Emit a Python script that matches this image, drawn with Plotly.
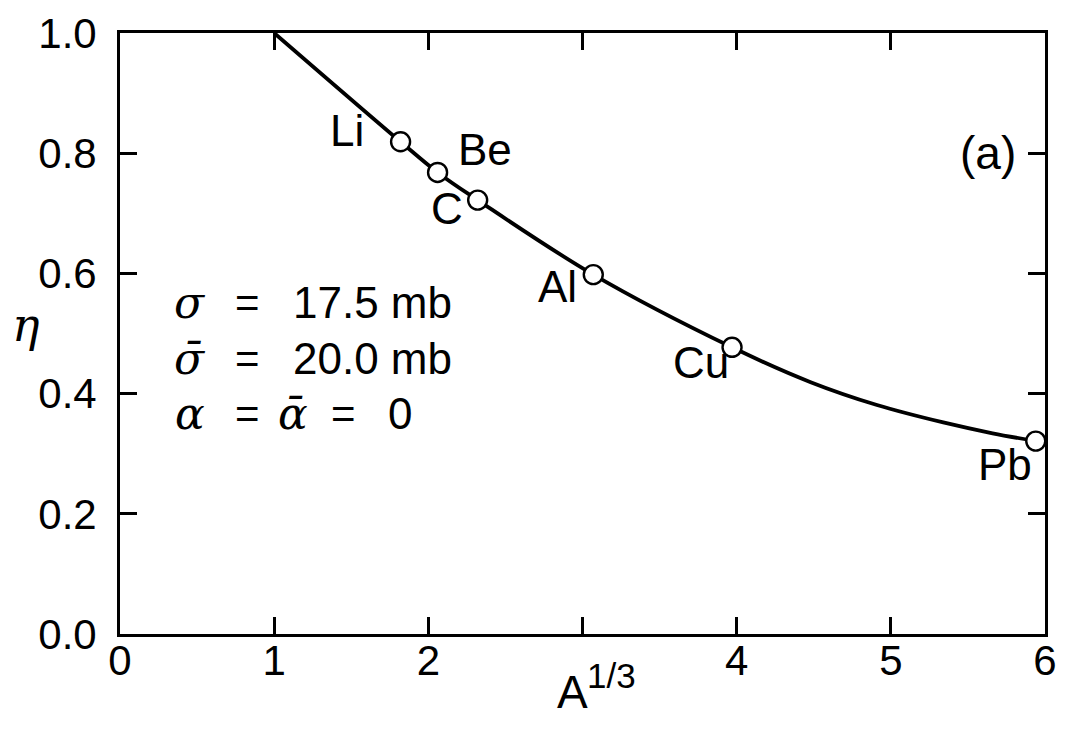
import plotly.graph_objects as go

# Fitted curve eta(A^{1/3}) and the measured nuclei
curve_x = [1.00, 1.82, 2.06, 2.32, 3.07, 3.97, 4.48, 4.91, 5.34, 5.66, 5.94]
curve_y = [1.000, 0.819, 0.768, 0.722, 0.598, 0.477, 0.419, 0.381, 0.352, 0.334, 0.321]

elements = ["Li", "Be", "C", "Al", "Cu", "Pb"]
elem_x = [1.82, 2.06, 2.32, 3.07, 3.97, 5.94]
elem_y = [0.819, 0.768, 0.722, 0.598, 0.477, 0.321]
# label offsets in pixels (x right, y up)
label_dx = [-54, 47, -31, -36, -31, -31]
label_dy = [5, 17, -14, -18, -21, -29]

x_ticks = [0, 1, 2, 3, 4, 5, 6]
x_tick_text = ["0", "1", "2", "", "4", "5", "6"]
y_ticks = [0.0, 0.2, 0.4, 0.6, 0.8, 1.0]

TICK_FONT = "Liberation Sans Narrow, Liberation Sans, Arial, sans-serif"
TEXT_FONT = "Liberation Sans, Arial, sans-serif"
GREEK_FONT = "DejaVu Serif, Liberation Serif, serif"
LIFT = 6  # raise text so the glyph body, not the line box, is centred


def note(x, y, text, size, family=TEXT_FONT, xref="x", yref="y",
         xanchor="center", dx=0, dy=0):
    return dict(x=x, y=y, xref=xref, yref=yref, text=text, showarrow=False,
                xanchor=xanchor, yanchor="middle", xshift=dx, yshift=dy + LIFT,
                font=dict(family=family, size=size, color="black"))


fig = go.Figure()

fig.add_trace(go.Scatter(
    x=curve_x, y=curve_y, mode="lines",
    line=dict(color="black", width=3.8, shape="spline", smoothing=1.0),
    hoverinfo="skip", showlegend=False,
))

fig.add_trace(go.Scatter(
    x=elem_x, y=elem_y, mode="markers",
    marker=dict(symbol="circle", size=19, color="white",
                line=dict(color="black", width=2.4)),
    showlegend=False,
))

annotations = []
for name, x, y, dx, dy in zip(elements, elem_x, elem_y, label_dx, label_dy):
    annotations.append(note(x, y, name, 44, dx=dx, dy=dy))

annotations.append(note(5.63, 0.79, "(a)", 46))

# parameter block
param_rows = [
    (0.5416, "σ", "17.5 mb"),
    (0.4477, "σ\u0304", "20.0 mb"),
]
for y, sym, val in param_rows:
    annotations.append(note(0.4545, y, f"<i>{sym}</i>", 44, family=GREEK_FONT))
    annotations.append(note(0.829, y, "=", 42))
    annotations.append(note(1.108, y, val, 44, xanchor="left"))

y3 = 0.357
annotations += [
    note(0.4545, y3, "<i>α</i>", 44, family=GREEK_FONT),
    note(0.829, y3, "=", 42),
    note(1.12, y3, "<i>α\u0304</i>", 44, family=GREEK_FONT),
    note(1.447, y3, "=", 42),
    note(1.728, y3, "0", 44, xanchor="left"),
]

# axis titles
annotations += [
    note(-0.1014, 0.5037, "<i>η</i>", 46, family=GREEK_FONT, xref="paper", yref="paper"),
    note(2.932, -0.107, "A", 46, yref="paper"),
    note(3.015, -0.079, "1/3", 35, yref="paper", xanchor="left"),
]

axis_common = dict(
    showline=True, linecolor="black", linewidth=2.8, mirror="ticks",
    ticks="inside", ticklen=17, tickwidth=2.5, tickcolor="black",
    showgrid=False, zeroline=False,
    tickfont=dict(family=TICK_FONT, size=42, color="black"),
)

fig.update_xaxes(range=[0, 6], tickvals=x_ticks, ticktext=x_tick_text,
                 ticklabelstandoff=-12, **axis_common)
fig.update_yaxes(range=[0, 1.0], tickvals=y_ticks, tickformat=".1f",
                 ticklabelstandoff=12, **axis_common)

fig.update_layout(
    width=1067, height=729,
    margin=dict(l=120, r=10, t=26, b=95),
    paper_bgcolor="white", plot_bgcolor="white",
    annotations=annotations,
    showlegend=False,
)

fig.write_html("out.html")
